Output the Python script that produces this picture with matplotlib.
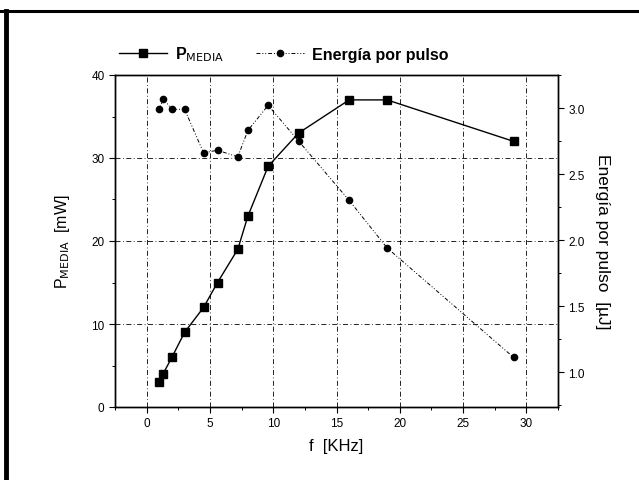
import matplotlib.pyplot as plt
from matplotlib.lines import Line2D
from matplotlib.ticker import MultipleLocator

plt.rcParams['font.family'] = ['Liberation Sans', 'DejaVu Sans']

# data
f_p = [1, 1.3, 2, 3, 4.5, 5.6, 7.2, 8, 9.6, 12, 16, 19, 29]
p_media = [3, 4, 6, 9, 12, 15, 19, 23, 29, 33, 37, 37, 32]
f_e = [1, 1.3, 2, 3, 4.5, 5.6, 7.2, 8, 9.6, 12, 16, 19, 29]
energia = [2.99, 3.07, 2.99, 2.99, 2.66, 2.68, 2.63, 2.83, 3.02, 2.75, 2.30, 1.94, 1.11]

fig = plt.figure(figsize=(6.39, 4.81), dpi=100)
ax = fig.add_axes([115/639, 1 - 408/481, (558-115)/639, (408-76)/481])
ax2 = ax.twinx()

l1, = ax.plot(f_p, p_media, color='black', marker='s', markersize=5.5,
              linewidth=1.0, label='P$_{\\mathrm{MEDIA}}$')
l2, = ax2.plot(f_e, energia, color='black', marker='o', markersize=4.5,
               linewidth=0.7, linestyle=(0, (4, 2, 1, 2, 1, 2)),
               label='Energía por pulso')

ax.set_xlim(-2.5, 32.5)
ax.set_ylim(0, 40)
ax2.set_ylim(0.735, 3.25)
ax.xaxis.set_major_locator(MultipleLocator(5))
ax.xaxis.set_minor_locator(MultipleLocator(2.5))
ax.yaxis.set_major_locator(MultipleLocator(10))
ax.yaxis.set_minor_locator(MultipleLocator(5))
ax2.yaxis.set_major_locator(MultipleLocator(0.5))
ax2.yaxis.set_minor_locator(MultipleLocator(0.25))
ax2.yaxis.set_major_formatter(lambda v, p: f'{v:.1f}')

ax.grid(True, which='major', color='black', linestyle=(0, (6, 3, 1, 3)), linewidth=0.6)

for a in (ax, ax2):
    a.tick_params(which='major', direction='out', length=4, width=0.8, labelsize=8.5)
    a.tick_params(which='minor', direction='out', length=2.5, width=0.7)
    for s in a.spines.values():
        s.set_linewidth(1.0)

ax.set_xlabel('f  [KHz]', fontsize=12, labelpad=6)
ax.set_ylabel('P$_{\\mathrm{MEDIA}}$  [mW]', fontsize=11.5, labelpad=14)
ax2.set_ylabel('Energía por pulso  [µJ]', fontsize=12.5, rotation=270, labelpad=18)

fig.legend(handles=[l1, l2], loc='center left', bbox_to_anchor=(105/639, 1 - 55/481),
           ncol=2, frameon=False, prop={'size': 11.5, 'weight': 'bold'},
           handlelength=3, columnspacing=2.0, handletextpad=0.5)

# scanned page border
fig.add_artist(Line2D([0, 1], [1 - 12/481, 1 - 12/481], color='black', linewidth=2.2))
fig.add_artist(Line2D([5.5/639, 5.5/639], [0, 1 - 12/481], color='black', linewidth=3.5))

fig.savefig('out.png', dpi=100)
